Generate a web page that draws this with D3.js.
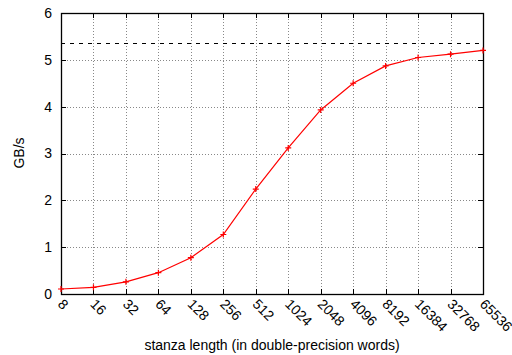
<!DOCTYPE html>
<html>
<head>
<meta charset="utf-8">
<script src="https://cdn.jsdelivr.net/npm/d3@7"></script>
<style>
  html, body { margin: 0; padding: 0; background: #fff; }
  svg text { font-family: "Liberation Sans", Arial, sans-serif; fill: #000; }
</style>
</head>
<body>
<svg id="chart" width="512" height="355"></svg>
<script>
// stanza lengths (double-precision words) and measured bandwidth in GB/s
const stanzaLengths = [8, 16, 32, 64, 128, 256, 512, 1024, 2048, 4096, 8192, 16384, 32768, 65536];
const bandwidth = [0.107, 0.143, 0.26, 0.455, 0.775, 1.27, 2.24, 3.12, 3.93, 4.50, 4.87, 5.05, 5.12, 5.20];
const peakBandwidth = 5.37;
const yTicks = [0, 1, 2, 3, 4, 5, 6];

const svg = d3.select("#chart");
const m = { left: 61, right: 483, top: 13, bottom: 294 };

const x = d3.scaleLog().base(2).domain([8, 65536]).range([m.left, m.right]);
const y = d3.scaleLinear().domain([0, 6]).range([m.bottom, m.top]);

// grid
const grid = svg.append("g").attr("stroke", "#888").attr("stroke-width", 1)
  .attr("stroke-dasharray", "1,2").attr("shape-rendering", "crispEdges");
grid.selectAll("line.v").data(stanzaLengths.slice(1, -1)).join("line")
  .attr("x1", d => Math.round(x(d)) + 0.5).attr("x2", d => Math.round(x(d)) + 0.5)
  .attr("y1", m.top).attr("y2", m.bottom);
grid.selectAll("line.h").data(yTicks.slice(1, -1)).join("line")
  .attr("x1", m.left).attr("x2", m.right)
  .attr("y1", d => Math.round(y(d)) + 0.5).attr("y2", d => Math.round(y(d)) + 0.5);

// peak reference line
svg.append("line")
  .attr("x1", m.left).attr("x2", m.right)
  .attr("y1", Math.round(y(peakBandwidth)) + 0.5).attr("y2", Math.round(y(peakBandwidth)) + 0.5)
  .attr("stroke", "#000").attr("stroke-width", 1).attr("stroke-dasharray", "4,5")
  .attr("shape-rendering", "crispEdges");

// axes with inward ticks
const tickLen = 5;
const axisG = svg.append("g").attr("stroke", "#000").attr("shape-rendering", "crispEdges");
yTicks.forEach(t => {
  const yy = Math.round(y(t)) + 0.5;
  axisG.append("line").attr("x1", m.left).attr("x2", m.left + tickLen).attr("y1", yy).attr("y2", yy);
  axisG.append("line").attr("x1", m.right - tickLen).attr("x2", m.right).attr("y1", yy).attr("y2", yy);
});
stanzaLengths.forEach(t => {
  const xx = Math.round(x(t)) + 0.5;
  axisG.append("line").attr("x1", xx).attr("x2", xx).attr("y1", m.bottom).attr("y2", m.bottom - tickLen);
  axisG.append("line").attr("x1", xx).attr("x2", xx).attr("y1", m.top).attr("y2", m.top + tickLen);
});

svg.append("rect")
  .attr("x", m.left + 0.5).attr("y", m.top + 0.5)
  .attr("width", m.right - m.left).attr("height", m.bottom - m.top)
  .attr("fill", "none").attr("stroke", "#000").attr("stroke-width", 1.3);

// y tick labels
svg.append("g").selectAll("text").data(yTicks).join("text")
  .attr("x", 52).attr("y", d => y(d)).attr("dy", "0.35em")
  .attr("text-anchor", "end").attr("font-size", 14).text(d => d);

// x tick labels, rotated
svg.append("g").selectAll("text").data(stanzaLengths).join("text")
  .attr("transform", d => `translate(${x(d) - 4},${m.bottom + 11}) rotate(45)`)
  .attr("text-anchor", "start").attr("font-size", 14).text(d => d);

// axis titles
svg.append("text").attr("x", 272).attr("y", 350).attr("text-anchor", "middle")
  .attr("font-size", 14).text("stanza length (in double-precision words)");
svg.append("text").attr("transform", "translate(24,153) rotate(-90)")
  .attr("text-anchor", "middle").attr("font-size", 14).text("GB/s");

// data series
const pts = stanzaLengths.map((s, i) => [s, bandwidth[i]]);
svg.append("path").datum(pts)
  .attr("fill", "none").attr("stroke", "#ff0000").attr("stroke-width", 1.2)
  .attr("d", d3.line().x(d => x(d[0])).y(d => y(d[1])));
const mk = 3;
svg.append("g").attr("stroke", "#ff0000").attr("stroke-width", 1.2)
  .selectAll("path").data(pts).join("path")
  .attr("d", d => {
    const px = x(d[0]), py = y(d[1]);
    return `M${px - mk},${py}H${px + mk}M${px},${py - mk}V${py + mk}`;
  });
</script>
</body>
</html>
